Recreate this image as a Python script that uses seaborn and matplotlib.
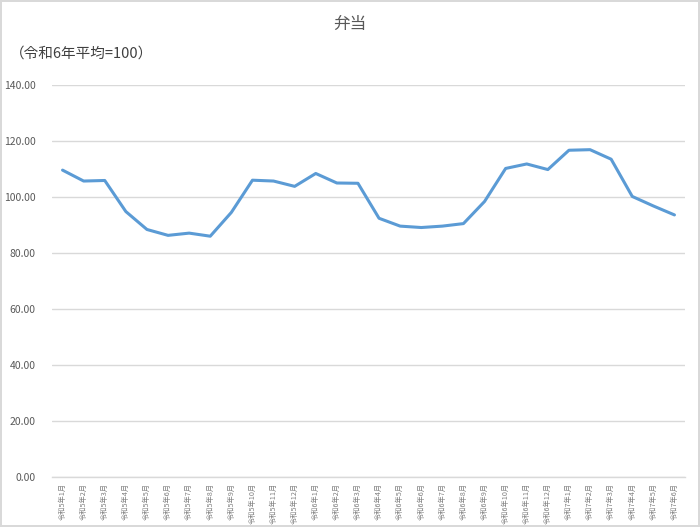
import matplotlib
matplotlib.use("Agg")
import matplotlib.pyplot as plt
import seaborn as sns
import pandas as pd
import numpy as np

months = (
    [f"令和5年{m}月" for m in range(1, 13)]
    + [f"令和6年{m}月" for m in range(1, 13)]
    + [f"令和7年{m}月" for m in range(1, 7)]
)
values = [
    109.6, 105.7, 105.9, 94.8, 88.4, 86.3, 87.1, 86.0, 94.5, 106.0,
    105.7, 103.8, 108.4, 105.0, 104.9, 92.4, 89.6, 89.1, 89.6, 90.5,
    98.4, 110.2, 111.8, 109.8, 116.7, 116.9, 113.5, 100.2, 96.8, 93.6,
]
yticks = [0, 20, 40, 60, 80, 100, 120, 140]
title = "弁当"
subtitle = "（令和6年平均=100）"

sns.set_theme(style="white")
plt.rcParams['font.family'] = ['Noto Sans CJK JP', 'DejaVu Sans']

df = pd.DataFrame({"idx": range(len(months)), "month": months, "value": values})

fig = plt.figure(figsize=(7, 5.27), dpi=100)
fig.patch.set_facecolor("white")
fig.patch.set_edgecolor("#D9D9D9")
fig.patch.set_linewidth(1.5)

ax = fig.add_axes([52/700, 50/527, (685-52)/700, (477-85)/527])
sns.lineplot(data=df, x="idx", y="value", ax=ax, color="#5B9BD5",
             linewidth=2.2, sort=False, legend=False)

ax.set_xlim(-0.5, len(months) - 0.5)
ax.set_ylim(0, 140)
ax.set_yticks(yticks)
ax.set_yticklabels([f"{v:.2f}" for v in yticks], fontsize=7.5, color="#595959")
ax.set_xticks(range(len(months)))
ax.set_xticklabels(months, rotation=90, fontsize=5.2, color="#7F7F7F")
ax.tick_params(axis="x", length=0, pad=4)
ax.tick_params(axis="y", length=0, pad=12)
ax.grid(axis="y", color="#D9D9D9", linewidth=1)
for s in ["top", "right", "left"]:
    ax.spines[s].set_visible(False)
ax.spines["bottom"].set_color("#D9D9D9")
ax.spines["bottom"].set_linewidth(1)
ax.set_xlabel("")
ax.set_ylabel("")

fig.text(0.5, 1 - 24/527, title, ha="center", va="center", fontsize=12, color="#595959")
fig.text(10/700, 1 - 54/527, subtitle, ha="left", va="center", fontsize=10.5, color="#404040")

fig.savefig("out.png", dpi=100)
